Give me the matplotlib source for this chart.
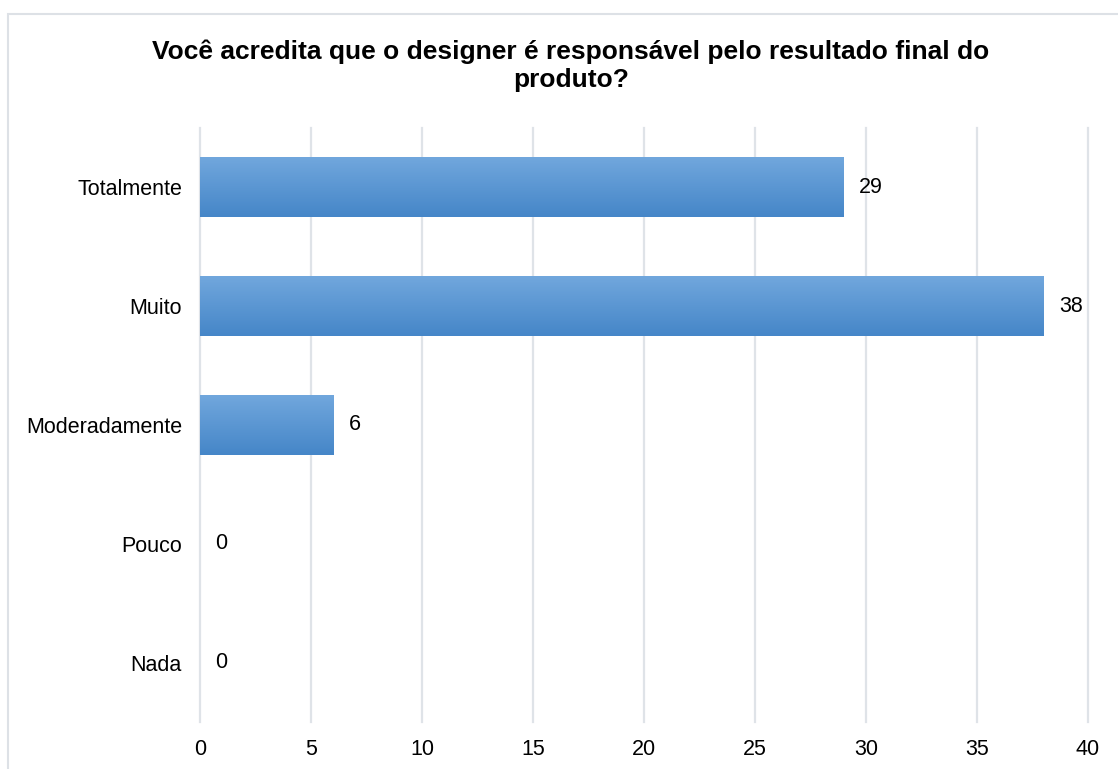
import numpy as np
import matplotlib.pyplot as plt
from matplotlib.patches import Rectangle

plt.rcParams['font.family'] = ['Liberation Sans', 'DejaVu Sans']

categories = ["Totalmente", "Muito", "Moderadamente", "Pouco", "Nada"]
values = [29, 38, 6, 0, 0]
x_ticks = [0, 5, 10, 15, 20, 25, 30, 35, 40]

W, H = 1118, 769
fig = plt.figure(figsize=(W / 100, H / 100), dpi=100)

# outer chart frame (runs off the right and bottom edges)
fig.patches.append(Rectangle((7.5 / W, -0.05), 1.1, 1 - 13.5 / H + 0.05,
                             transform=fig.transFigure, fill=False,
                             edgecolor="#dde1e6", linewidth=1.5))

ax = fig.add_axes([200 / W, 1 - 722 / H, 888 / W, 594 / H])

# vertical gradient used to fill each bar
grad = np.linspace(0, 1, 256).reshape(-1, 1)
top = np.array([0x71, 0xa7, 0xdd]) / 255
bot = np.array([0x45, 0x86, 0xc8]) / 255
img = top + (bot - top) * grad[:, :, None]

bar_h = 0.5
ypos = np.arange(len(categories))
for y, v in zip(ypos, values):
    if v > 0:
        ax.imshow(img, extent=(0, v, y + bar_h / 2, y - bar_h / 2),
                  aspect="auto", interpolation="bilinear", zorder=2)
    ax.text(v + 0.7, y, str(v), va="center", ha="left", fontsize=15.5)

ax.set_xlim(0, 40)
ax.set_ylim(len(categories) - 0.5, -0.5)
ax.set_xticks(x_ticks)
ax.set_yticks(ypos)
ax.set_yticklabels(categories)
ax.tick_params(length=0, labelsize=15.5)
ax.tick_params(axis="x", pad=12)
ax.tick_params(axis="y", pad=13)
ax.grid(axis="x", color="#dfe3e8", linewidth=1.6, zorder=0)
for gl in ax.get_xgridlines():
    gl.set_clip_on(False)
ax.set_axisbelow(True)
for s in ax.spines.values():
    s.set_visible(False)

fig.text(571 / W, 1 - 66 / H,
         "Você acredita que o designer é responsável pelo resultado final do\nproduto?",
         ha="center", va="center", fontsize=19, fontweight="bold",
         linespacing=1.2)

fig.savefig("out.png", dpi=100)
